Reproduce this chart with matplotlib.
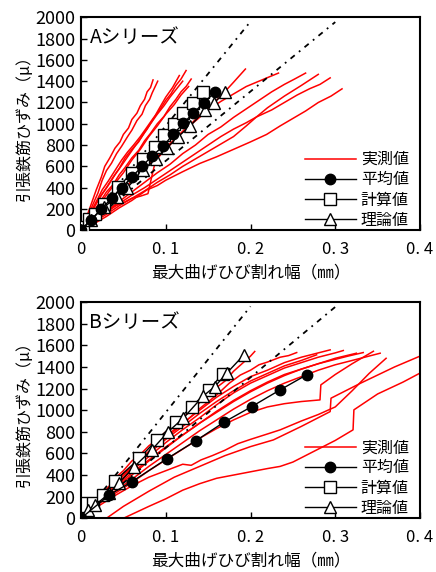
import matplotlib
matplotlib.use("Agg")
from matplotlib import pyplot as plt

plt.rcParams['font.family'] = ['Noto Sans CJK JP', 'DejaVu Sans']
plt.rcParams['axes.unicode_minus'] = False

# ---- A シリーズ : 実測値 (x = ひび割れ幅 mm, y = ひずみ μ)
A_meas = [
    ([0, 0.005, 0.01, 0.018, 0.024, 0.028, 0.034, 0.04, 0.046, 0.05, 0.056, 0.06, 0.066, 0.07, 0.075, 0.078, 0.082, 0.085],
     [0, 90, 200, 380, 500, 600, 680, 770, 830, 900, 960, 1040, 1100, 1170, 1230, 1300, 1340, 1412]),
    ([0, 0.006, 0.01, 0.02, 0.025, 0.03, 0.036, 0.042, 0.048, 0.055, 0.06, 0.066, 0.072, 0.076, 0.081, 0.084, 0.0905],
     [0, 80, 170, 350, 470, 560, 630, 720, 790, 880, 940, 1030, 1090, 1170, 1230, 1290, 1400]),
    ([0, 0.006, 0.012, 0.02, 0.025, 0.032, 0.04, 0.048, 0.055, 0.062, 0.07, 0.078, 0.085, 0.092, 0.1, 0.106, 0.112, 0.118, 0.124],
     [0, 70, 180, 300, 380, 460, 560, 660, 735, 800, 880, 970, 1050, 1120, 1220, 1280, 1360, 1420, 1500]),
    ([0, 0.006, 0.012, 0.018, 0.025, 0.032, 0.04, 0.048, 0.055, 0.062, 0.07, 0.078, 0.085, 0.092, 0.1, 0.108, 0.116],
     [0, 60, 160, 250, 340, 420, 520, 610, 690, 770, 860, 950, 1040, 1140, 1250, 1340, 1453]),
    ([0, 0.008, 0.015, 0.022, 0.03, 0.038, 0.045, 0.052, 0.06, 0.068, 0.075, 0.082, 0.09, 0.098, 0.105, 0.112, 0.118, 0.124, 0.13],
     [0, 80, 180, 260, 360, 430, 520, 590, 680, 750, 840, 910, 1000, 1070, 1160, 1230, 1300, 1350, 1420]),
    ([0, 0.008, 0.015, 0.022, 0.03, 0.04, 0.05, 0.06, 0.07, 0.08, 0.09, 0.1, 0.11, 0.118, 0.127],
     [0, 70, 170, 240, 330, 440, 540, 660, 760, 880, 980, 1090, 1180, 1270, 1350]),
    ([0, 0.007, 0.014, 0.022, 0.03, 0.038, 0.045, 0.052, 0.06, 0.068, 0.075, 0.082, 0.09, 0.098, 0.105, 0.112, 0.12],
     [0, 90, 200, 310, 400, 500, 580, 680, 760, 830, 920, 1000, 1090, 1170, 1250, 1320, 1400]),
    ([0, 0.01, 0.02, 0.03, 0.04, 0.05, 0.06, 0.07, 0.08, 0.09, 0.1, 0.11, 0.12, 0.13, 0.14, 0.152, 0.165, 0.18, 0.194],
     [0, 70, 150, 220, 300, 390, 460, 550, 620, 700, 780, 850, 930, 1000, 1080, 1160, 1260, 1390, 1514]),
    ([0, 0.01, 0.02, 0.03, 0.04, 0.05, 0.06, 0.07, 0.079, 0.083, 0.088, 0.1, 0.112, 0.124, 0.137, 0.15, 0.165, 0.18, 0.195, 0.21, 0.222, 0.233],
     [0, 60, 130, 180, 230, 260, 300, 320, 344, 487, 657, 760, 860, 956, 1040, 1130, 1210, 1280, 1350, 1400, 1440, 1476]),
    ([0, 0.015, 0.03, 0.045, 0.06, 0.075, 0.09, 0.105, 0.12, 0.135, 0.15, 0.165, 0.18, 0.195, 0.21, 0.225, 0.24, 0.252, 0.265],
     [0, 100, 180, 270, 360, 450, 540, 620, 720, 800, 900, 970, 1060, 1140, 1220, 1300, 1370, 1420, 1476]),
    ([0, 0.015, 0.03, 0.045, 0.06, 0.075, 0.09, 0.105, 0.12, 0.135, 0.15, 0.165, 0.18, 0.195, 0.207, 0.22, 0.24, 0.26, 0.28],
     [0, 80, 150, 230, 300, 370, 450, 520, 600, 670, 740, 810, 880, 980, 1064, 1150, 1260, 1360, 1464]),
    ([0, 0.015, 0.03, 0.045, 0.06, 0.075, 0.09, 0.105, 0.12, 0.135, 0.15, 0.165, 0.18, 0.195, 0.207, 0.225, 0.24, 0.255, 0.27, 0.282, 0.294],
     [0, 90, 170, 250, 330, 400, 480, 560, 640, 720, 800, 880, 950, 1010, 1064, 1130, 1200, 1270, 1330, 1370, 1431]),
    ([0, 0.015, 0.03, 0.045, 0.06, 0.0775, 0.09, 0.1, 0.12, 0.14, 0.16, 0.18, 0.2, 0.219, 0.235, 0.25, 0.265, 0.28, 0.295, 0.308],
     [0, 60, 130, 210, 280, 378, 420, 470, 550, 627, 690, 760, 830, 900, 980, 1050, 1120, 1200, 1260, 1328]),
]

A_avg_x = [0, 0.012, 0.024, 0.036, 0.048, 0.06, 0.072, 0.084, 0.0971, 0.1089, 0.1207, 0.1325, 0.1451, 0.158]
A_avg_y = [0, 100, 200, 300, 400, 500, 600, 700, 790, 903, 1003, 1102, 1196, 1299]
A_calc_x = [0, 0.002, 0.0098, 0.0169, 0.0275, 0.044, 0.0602, 0.0727, 0.0873, 0.0979, 0.1097, 0.1207, 0.1318, 0.1443]
A_calc_y = [0, 34, 103, 153, 246, 406, 542, 666, 784, 893, 996, 1097, 1196, 1299]
A_theo_x = [0, 0.0118, 0.0275, 0.043, 0.054, 0.0727, 0.0885, 0.101, 0.114, 0.1286, 0.1463, 0.157, 0.1699]
A_theo_y = [0, 97, 221, 315, 393, 564, 673, 770, 875, 977, 1127, 1196, 1299]

# ---- B シリーズ : 実測値
B_meas = [
    ([0, 0.01, 0.02, 0.03, 0.04, 0.05, 0.06, 0.07, 0.08, 0.09, 0.1, 0.11, 0.12, 0.13, 0.14, 0.15, 0.16, 0.17, 0.18, 0.19, 0.2, 0.205],
     [0, 95, 185, 260, 370, 440, 530, 590, 670, 730, 800, 860, 935, 990, 1070, 1130, 1210, 1270, 1360, 1430, 1500, 1543]),
    ([0, 0.02, 0.04, 0.06, 0.08, 0.1, 0.12, 0.14, 0.16, 0.175, 0.188, 0.2, 0.21, 0.22, 0.235, 0.245, 0.2545],
     [0, 170, 320, 475, 600, 745, 870, 1015, 1140, 1250, 1325, 1370, 1420, 1445, 1490, 1505, 1533]),
    ([0, 0.02, 0.04, 0.06, 0.08, 0.1, 0.12, 0.14, 0.16, 0.18, 0.2, 0.22, 0.24, 0.26, 0.28, 0.294],
     [0, 190, 350, 480, 620, 760, 880, 1000, 1120, 1220, 1310, 1370, 1440, 1490, 1530, 1558]),
    ([0, 0.02, 0.04, 0.06, 0.08, 0.1, 0.12, 0.14, 0.16, 0.18, 0.2, 0.22, 0.24, 0.26, 0.28, 0.3, 0.3095],
     [0, 170, 310, 440, 570, 700, 820, 930, 1050, 1160, 1250, 1320, 1390, 1440, 1490, 1530, 1552]),
    ([0, 0.02, 0.04, 0.06, 0.08, 0.1, 0.12, 0.14, 0.16, 0.18, 0.2, 0.22, 0.24, 0.26, 0.28, 0.3, 0.315, 0.333],
     [0, 150, 280, 400, 530, 650, 770, 880, 990, 1090, 1180, 1260, 1330, 1380, 1430, 1470, 1500, 1533]),
    ([0, 0.02, 0.04, 0.06, 0.08, 0.1, 0.12, 0.14, 0.16, 0.18, 0.2, 0.22, 0.24, 0.26, 0.28, 0.3, 0.32, 0.353],
     [0, 140, 250, 360, 480, 590, 700, 810, 910, 1010, 1100, 1180, 1250, 1310, 1370, 1420, 1460, 1527]),
    ([0, 0.02, 0.04, 0.06, 0.08, 0.1, 0.12, 0.14, 0.16, 0.18, 0.2, 0.22, 0.24, 0.26, 0.278],
     [0, 180, 330, 460, 600, 730, 850, 970, 1080, 1180, 1270, 1340, 1410, 1460, 1512]),
    ([0, 0.02, 0.04, 0.06, 0.08, 0.1, 0.12, 0.14, 0.16, 0.18, 0.2, 0.22, 0.24, 0.26, 0.28, 0.3, 0.325],
     [0, 160, 290, 420, 540, 660, 770, 880, 980, 1080, 1170, 1250, 1320, 1380, 1430, 1480, 1527]),
    ([0, 0.02, 0.04, 0.06, 0.08, 0.1, 0.12, 0.14, 0.16, 0.18, 0.2, 0.22, 0.24, 0.26, 0.282, 0.283, 0.3, 0.32, 0.345],
     [0, 130, 230, 330, 440, 540, 640, 740, 830, 910, 980, 1030, 1060, 1080, 1095, 1234, 1330, 1430, 1545]),
    ([0, 0.02, 0.04, 0.06, 0.08, 0.1, 0.11, 0.12, 0.13, 0.1416, 0.155, 0.17, 0.185, 0.2, 0.22, 0.235, 0.26, 0.28, 0.3, 0.32, 0.34, 0.36],
     [0, 110, 210, 300, 380, 440, 470, 500, 490, 540, 580, 630, 690, 730, 780, 818, 900, 960, 1030, 1180, 1340, 1480]),
    ([0.03, 0.05, 0.08, 0.11, 0.14, 0.17, 0.2, 0.227, 0.26, 0.294, 0.295, 0.33, 0.37, 0.4],
     [0, 110, 250, 380, 480, 580, 663, 725, 850, 987, 1111, 1250, 1400, 1500]),
    ([0.05, 0.08, 0.1, 0.12, 0.14, 0.16, 0.18, 0.2, 0.22, 0.235, 0.25, 0.27, 0.3, 0.321, 0.322, 0.35, 0.38, 0.4],
     [0, 110, 180, 260, 320, 370, 400, 430, 460, 480, 520, 600, 720, 818, 1003, 1150, 1260, 1343]),
]

B_avg_x = [0, 0.0334, 0.0602, 0.101, 0.1357, 0.1687, 0.2014, 0.235, 0.2663]
B_avg_y = [0, 216, 339, 549, 718, 889, 1033, 1188, 1327]
B_calc_x = [0, 0.0138, 0.0256, 0.0405, 0.0688, 0.0893, 0.112, 0.1306, 0.151, 0.167]
B_calc_y = [0, 139, 216, 348, 555, 725, 889, 1033, 1188, 1335]
B_theo_x = [0, 0.0079, 0.0169, 0.0334, 0.0452, 0.0629, 0.0834, 0.103, 0.1207, 0.1443, 0.158, 0.172, 0.1923]
B_theo_y = [0, 77, 123, 231, 330, 478, 632, 802, 926, 1132, 1219, 1343, 1512]

# 破線 (2本)
guide_x = [[0, 0.2], [0, 0.30]]
guide_y = [[0, 1960], [0, 1955]]

xticks = [0, 0.1, 0.2, 0.3, 0.4]
xtick_labels = ['0', '0. 1', '0. 2', '0. 3', '0. 4']
yticks = list(range(0, 2001, 200))


def draw(ax, meas, avg, calc, theo, title):
    for k, (x, y) in enumerate(meas):
        ax.plot(x, y, color='#ff0000', lw=1.1, zorder=2,
                label='実測値' if k == 0 else None)
    for gx, gy in zip(guide_x, guide_y):
        ax.plot(gx, gy, color='black', lw=1.3, ls=(0, (3, 3, 1, 3)), zorder=3)
    ax.plot(avg[0], avg[1], color='black', lw=1, marker='o', ms=7.5,
            mfc='black', mec='black', zorder=5, label='平均値')
    ax.plot(calc[0], calc[1], color='black', lw=1, marker='s', ms=8,
            mfc='white', mec='black', zorder=4, label='計算値')
    ax.plot(theo[0], theo[1], color='black', lw=1, marker='^', ms=9,
            mfc='white', mec='black', zorder=4, label='理論値')

    ax.set_xlim(0, 0.4)
    ax.set_ylim(0, 2000)
    ax.set_xticks(xticks)
    ax.set_xticklabels(xtick_labels)
    ax.set_yticks(yticks)
    ax.tick_params(direction='in', length=4, width=1, labelsize=12, pad=8)
    ax.tick_params(axis='y', pad=4, labelsize=13)
    for s in ax.spines.values():
        s.set_linewidth(1.5)
    ax.set_xlabel('最大曲げひび割れ幅（㎜）', fontsize=12, labelpad=4)
    ax.set_ylabel('引張鉄筋ひずみ（μ）', fontsize=11.5, labelpad=2)
    ax.text(0.025, 0.905, title, transform=ax.transAxes, fontsize=14,
            va='center', ha='left')
    ax.legend(loc='lower right', bbox_to_anchor=(1.0, -0.045), frameon=False,
              fontsize=11.5, handlelength=3.2, handletextpad=0.3,
              labelspacing=0.2, borderaxespad=0.3)


fig = plt.figure(figsize=(4.36, 5.72), dpi=100)
ax1 = fig.add_axes([0.1858, 0.5974, 0.7775, 0.3724])
ax2 = fig.add_axes([0.1858, 0.0939, 0.7775, 0.378])

draw(ax1, A_meas, (A_avg_x, A_avg_y), (A_calc_x, A_calc_y), (A_theo_x, A_theo_y), 'Aシリーズ')
draw(ax2, B_meas, (B_avg_x, B_avg_y), (B_calc_x, B_calc_y), (B_theo_x, B_theo_y), 'Bシリーズ')

fig.savefig('out.png', dpi=100)
